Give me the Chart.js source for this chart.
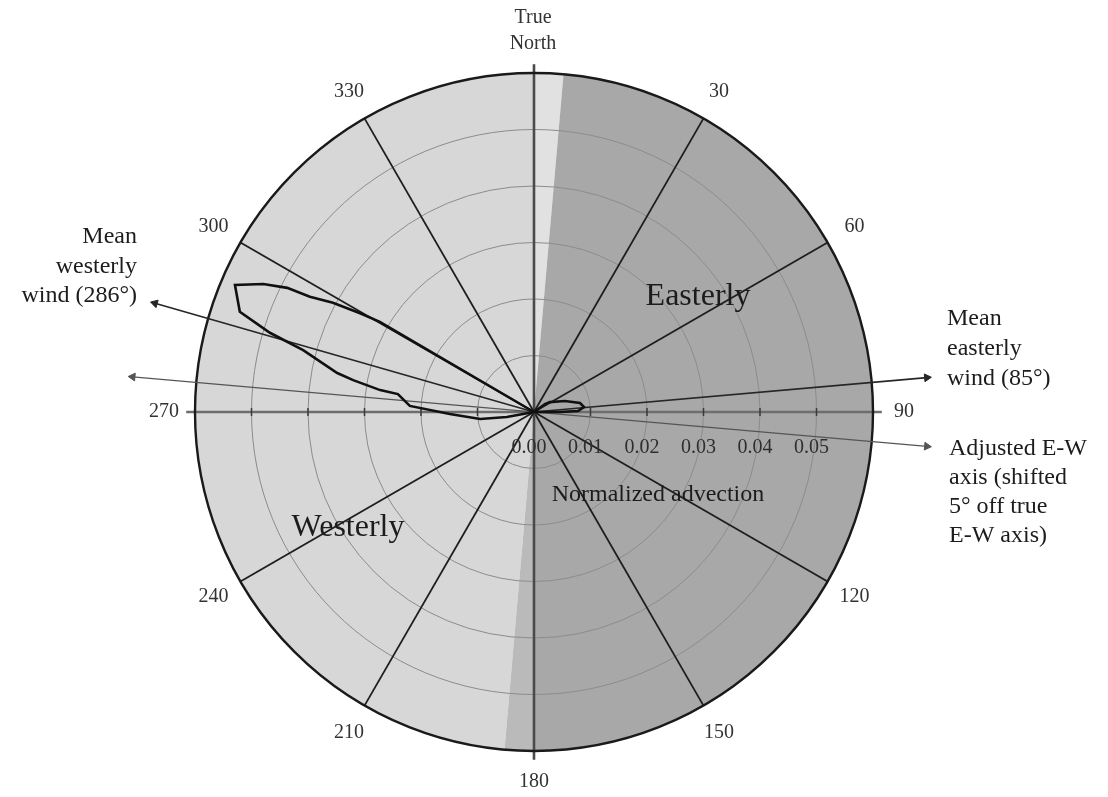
<!DOCTYPE html>
<html>
<head>
<meta charset="utf-8">
<script src="https://cdn.jsdelivr.net/npm/chart.js@4.4.1/dist/chart.umd.min.js"></script>
<style>
  html, body { margin: 0; padding: 0; background: #ffffff; }
  #wrap { width: 1108px; height: 797px; position: relative; }
</style>
</head>
<body>
<div id="wrap"><canvas id="rose"></canvas></div>
<script>
// Normalized advection against wind direction (degrees clockwise from true north)
const directions = [0, 54, 58, 70.5, 78.9, 84.3, 88.7, 90, 92,
  255, 259.5, 262.6, 268.6, 272.8, 277.5, 278.1, 280.0, 281.2, 285.0, 286.7,
  288.8, 293.0, 295.3, 296.7, 297.2, 298.5, 299.6, 300.3, 302, 360];
const advection = [0, 0.0024, 0.0033, 0.0058, 0.0083, 0.0089, 0.0078, 0.0046, 0,
  0, 0.0049, 0.0096, 0.0149, 0.0220, 0.0243, 0.0275, 0.0325, 0.0355, 0.0423, 0.0488,
  0.0550, 0.0575, 0.0530, 0.0489, 0.0446, 0.0405, 0.0354, 0.0316, 0, 0];

// Radial axis
const radialTicks = [0.00, 0.01, 0.02, 0.03, 0.04, 0.05];
const radialMax = 0.06;

// Compass spokes and their labels
const spokeAngles = [0, 30, 60, 90, 120, 150, 180, 210, 240, 270, 300, 330];
const spokeLabels = ['True\nNorth', '30', '60', '90', '120', '150', '180', '210', '240', '270', '300', '330'];

// Mean wind directions and the adjusted E-W axis
const meanWesterly = 286;
const meanEasterly = 85;
const axisShift = 5;
const adjustedAxis = [270 + axisShift, 90 + axisShift];

const DEG = Math.PI / 180;
function polar(bearing, r) {
  return { x: r * Math.sin(bearing * DEG), y: r * Math.cos(bearing * DEG) };
}

// Plot frame: the scales span the whole canvas so arrows can run past the rim
const W = 1108, H = 797;
const originPx = { x: 534, y: 412 };
const pxPerUnit = 5650;
const xRange = { min: -originPx.x / pxPerUnit, max: (W - originPx.x) / pxPerUnit };
const yRange = { min: -(H - originPx.y) / pxPerUnit, max: originPx.y / pxPerUnit };

const arrowReach = 0.0698;
const curve = directions.map((d, i) => polar(d, advection[i]));

const serif = '"Liberation Serif", "DejaVu Serif", serif';

const compassPlugin = {
  id: 'compass',
  beforeDatasetsDraw(chart) {
    const { ctx } = chart;
    const xs = chart.scales.x, ys = chart.scales.y;
    const cx = xs.getPixelForValue(0), cy = ys.getPixelForValue(0);
    const px = v => xs.getPixelForValue(v) - cx;
    const R = px(radialMax);
    const ang = b => (b - 90) * DEG;
    const pt = (b, r) => ({ x: cx + px(r) * Math.sin(b * DEG), y: cy - px(r) * Math.cos(b * DEG) });

    ctx.save();
    // shaded half-planes: adjusted westerly / easterly halves and the 5° slivers
    const sectors = [
      [180 + axisShift, 360, '#d7d7d7'],
      [0, axisShift, '#e1e1e1'],
      [axisShift, 180, '#a8a8a8'],
      [180, 180 + axisShift, '#bababa']
    ];
    sectors.forEach(([a, b, col]) => {
      ctx.beginPath();
      ctx.moveTo(cx, cy);
      ctx.arc(cx, cy, R, ang(a), ang(b));
      ctx.closePath();
      ctx.fillStyle = col;
      ctx.fill();
    });

    // rings
    ctx.strokeStyle = '#8c8c8c';
    ctx.lineWidth = 1;
    radialTicks.slice(1).forEach(t => {
      ctx.beginPath();
      ctx.arc(cx, cy, px(t), 0, Math.PI * 2);
      ctx.stroke();
    });

    // spokes
    spokeAngles.forEach(b => {
      const main = b % 90 === 0;
      const e = pt(b, main ? radialMax * 1.026 : radialMax);
      ctx.beginPath();
      ctx.moveTo(cx, cy);
      ctx.lineTo(e.x, e.y);
      if (main) {
        ctx.strokeStyle = (b === 90 || b === 270) ? '#6e6e6e' : '#4a4a4a';
        ctx.lineWidth = 2.6;
      } else {
        ctx.strokeStyle = '#1e1e1e';
        ctx.lineWidth = 1.8;
      }
      ctx.stroke();
    });

    // tick marks along the E-W axis
    ctx.strokeStyle = '#3a3a3a';
    ctx.lineWidth = 1.5;
    radialTicks.slice(1).forEach(t => {
      [1, -1].forEach(s => {
        ctx.beginPath();
        ctx.moveTo(cx + s * px(t), cy - 4);
        ctx.lineTo(cx + s * px(t), cy + 4);
        ctx.stroke();
      });
    });

    // outer circle
    ctx.beginPath();
    ctx.arc(cx, cy, R, 0, Math.PI * 2);
    ctx.strokeStyle = '#1a1a1a';
    ctx.lineWidth = 2.4;
    ctx.stroke();

    // radial tick labels
    ctx.fillStyle = '#2e2e2e';
    ctx.font = '20px ' + serif;
    ctx.textAlign = 'center';
    ctx.textBaseline = 'middle';
    radialTicks.forEach(t => {
      ctx.fillText(t.toFixed(2), cx + px(t) - 5, cy + 36);
    });

    // compass labels
    ctx.fillStyle = '#333333';
    ctx.font = '20px ' + serif;
    spokeAngles.forEach((b, i) => {
      const lines = spokeLabels[i].split('\n');
      if (lines.length > 1) {
        lines.forEach((ln, k) => ctx.fillText(ln, cx - 1, 18 + k * 26));
      } else {
        const p = pt(b, 0.0655);
        ctx.fillText(lines[0], p.x, p.y);
      }
    });
    ctx.restore();
  },
  afterDraw(chart) {
    const { ctx } = chart;
    ctx.save();
    ctx.fillStyle = '#1c1c1c';
    ctx.textBaseline = 'middle';

    ctx.font = '32px ' + serif;
    ctx.textAlign = 'center';
    ctx.fillText('Easterly', 698, 297);
    ctx.fillText('Westerly', 348, 528);

    ctx.font = '24px ' + serif;
    ctx.fillText('Normalized advection', 658, 495);

    ctx.textAlign = 'right';
    ['Mean', 'westerly', 'wind (286°)'].forEach((s, i) => ctx.fillText(s, 137, 237 + i * 29.5));

    ctx.textAlign = 'left';
    ['Mean', 'easterly', 'wind (85°)'].forEach((s, i) => ctx.fillText(s, 947, 319 + i * 30));
    ['Adjusted E-W', 'axis (shifted', '5° off true', 'E-W axis)'].forEach((s, i) => ctx.fillText(s, 949, 449 + i * 29));
    ctx.restore();
  }
};

const arrowSet = (pts, rot, radius, color, width) => ({
  data: pts,
  showLine: true,
  clip: false,
  borderColor: color,
  borderWidth: width,
  pointRadius: radius,
  pointStyle: 'triangle',
  pointRotation: rot,
  pointBackgroundColor: color,
  pointBorderColor: color,
  pointBorderWidth: 1
});

new Chart(document.getElementById('rose'), {
  type: 'scatter',
  data: {
    datasets: [
      {
        data: curve,
        showLine: true,
        borderColor: '#101010',
        borderWidth: 2.6,
        pointRadius: 0,
        tension: 0
      },
      arrowSet([polar(0, 0), polar(meanWesterly, arrowReach)], [0, meanWesterly], [0, 4.5], '#262626', 1.6),
      arrowSet([polar(0, 0), polar(meanEasterly, arrowReach)], [0, meanEasterly], [0, 4.5], '#262626', 1.6),
      arrowSet([polar(adjustedAxis[0], 0.0713), polar(adjustedAxis[1], arrowReach)], adjustedAxis, [4.5, 4.5], '#555555', 1.1)
    ]
  },
  options: {
    responsive: true,
    maintainAspectRatio: false,
    animation: false,
    layout: { padding: 0, autoPadding: false },
    scales: {
      x: { type: 'linear', bounds: 'data', min: xRange.min, max: xRange.max, display: false },
      y: { type: 'linear', bounds: 'data', min: yRange.min, max: yRange.max, display: false }
    },
    plugins: { legend: { display: false }, tooltip: { enabled: false } }
  },
  plugins: [compassPlugin]
});
</script>
</body>
</html>
